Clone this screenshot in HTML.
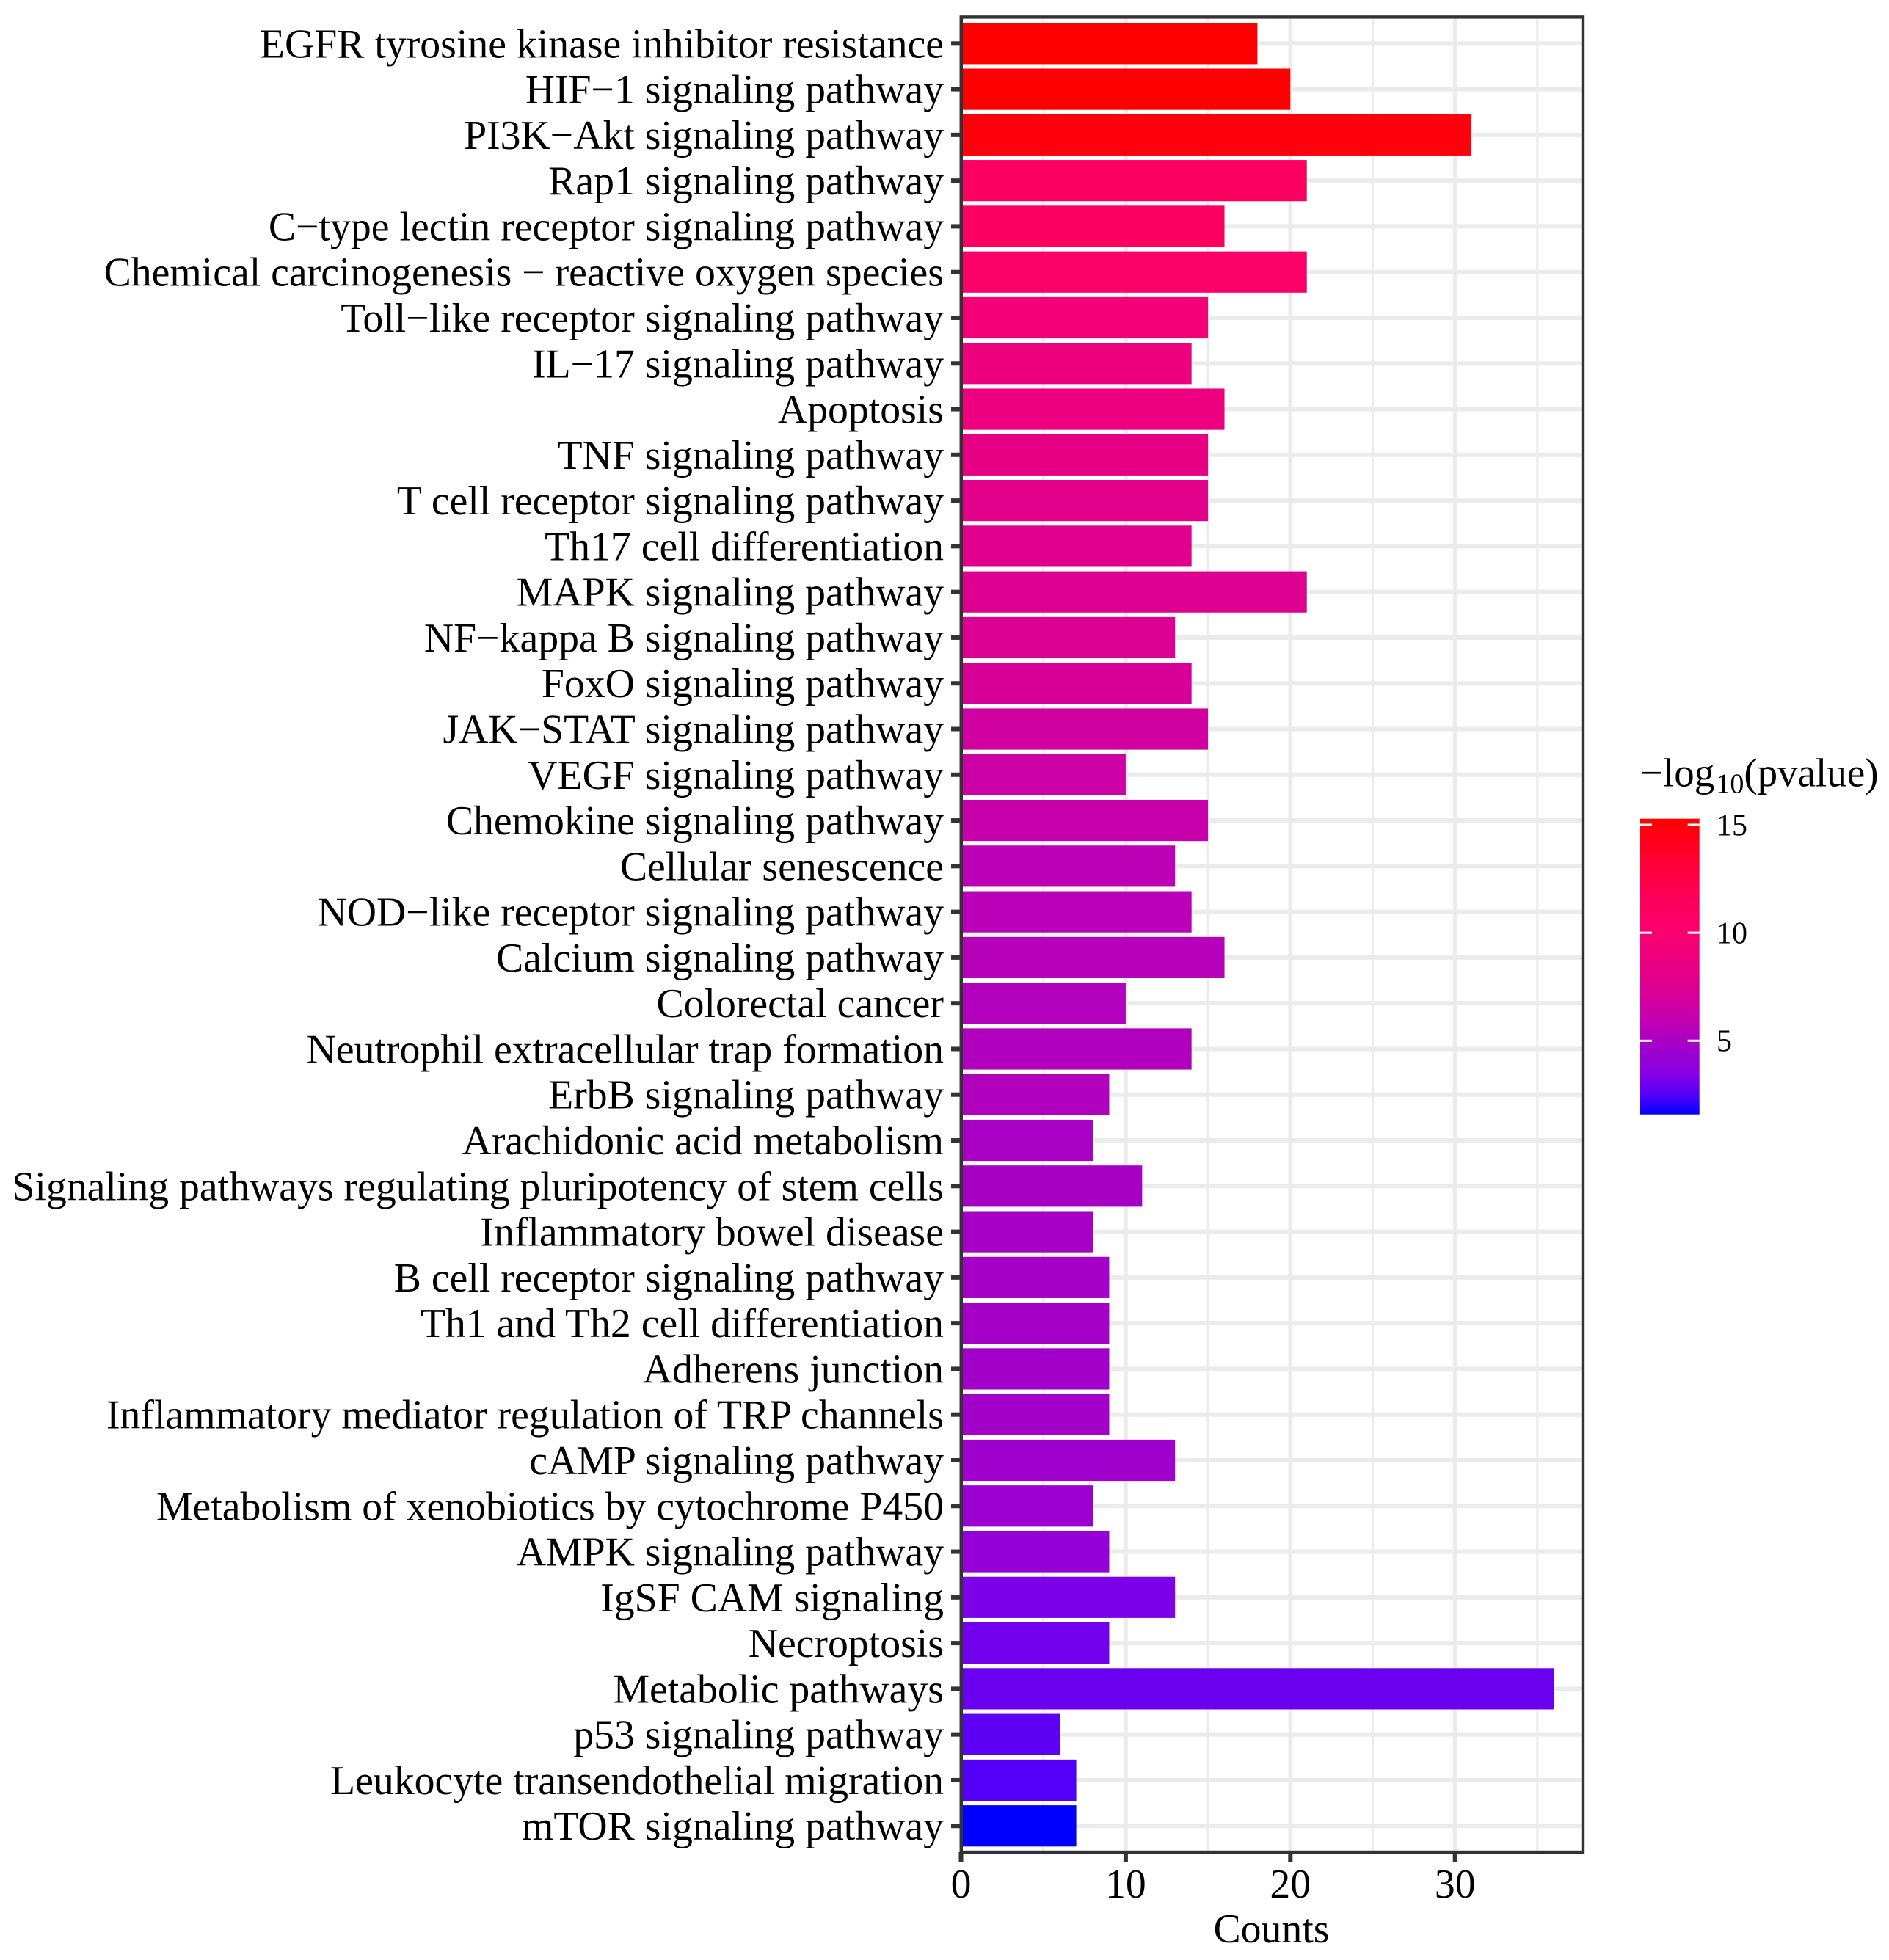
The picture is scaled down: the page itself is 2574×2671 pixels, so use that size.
<!DOCTYPE html>
<html>
<head>
<meta charset="utf-8">
<title>KEGG pathway bar chart</title>
<style>
html,body{margin:0;padding:0;background:#fff;}
svg{display:block;}
text{font-family:"Liberation Serif",serif;fill:#000;}
</style>
</head>
<body>
<svg id="chart" xmlns="http://www.w3.org/2000/svg" width="2574" height="2671" viewBox="0 0 2574 2671">
  <defs>
    <linearGradient id="legend-gradient" x1="0" y1="1" x2="0" y2="0"></linearGradient>
  </defs>
  <g id="grid"></g>
  <g id="bars"></g>
  <g id="axes"></g>
  <g id="legend"></g>
</svg>
<script>
const categories = [
"EGFR tyrosine kinase inhibitor resistance","HIF\u22121 signaling pathway","PI3K\u2212Akt signaling pathway","Rap1 signaling pathway","C\u2212type lectin receptor signaling pathway","Chemical carcinogenesis \u2212 reactive oxygen species","Toll\u2212like receptor signaling pathway","IL\u221217 signaling pathway","Apoptosis","TNF signaling pathway","T cell receptor signaling pathway","Th17 cell differentiation","MAPK signaling pathway","NF\u2212kappa B signaling pathway","FoxO signaling pathway","JAK\u2212STAT signaling pathway","VEGF signaling pathway","Chemokine signaling pathway","Cellular senescence","NOD\u2212like receptor signaling pathway","Calcium signaling pathway","Colorectal cancer","Neutrophil extracellular trap formation","ErbB signaling pathway","Arachidonic acid metabolism","Signaling pathways regulating pluripotency of stem cells","Inflammatory bowel disease","B cell receptor signaling pathway","Th1 and Th2 cell differentiation","Adherens junction","Inflammatory mediator regulation of TRP channels","cAMP signaling pathway","Metabolism of xenobiotics by cytochrome P450","AMPK signaling pathway","IgSF CAM signaling","Necroptosis","Metabolic pathways","p53 signaling pathway","Leukocyte transendothelial migration","mTOR signaling pathway"];
const counts = [18,20,31,21,16,21,15,14,16,15,15,14,21,13,14,15,10,15,13,14,16,10,14,9,8,11,8,9,9,9,9,13,8,9,13,9,36,6,7,7];
const logP = [15.28,15.28,14.8,11,11,10.5,9.4,8.9,8.75,8.4,8.0,7.75,7.5,7.4,7.1,6.7,6.5,6.2,5.7,5.6,5.5,5.4,5.3,5.3,5.0,4.95,4.9,4.85,4.8,4.7,4.7,4.6,4.4,4.1,3.3,3.1,2.9,2.7,2.5,1.6];
const xMajorTicks = [0,10,20,30];
const xMinorTicks = [5,15,25,35];
const legendTicks = [5,10,15];
const colorValues = [1.6,2.5,3.5,5,6,7.5,10,12.5,15,15.28];
const colorHexes = ["#0000ff","#5400f8","#8800e4","#a800c4","#c400b0","#dd0090","#fa0070","#ff0048","#ff0008","#ff0000"];

const NS = "http://www.w3.org/2000/svg";
const plotL = 1309.8, plotR = 2157, plotT = 23.4, plotB = 2524;
const x0 = 1309.5, unit = 22.44, y0 = 59.3, step = 62.28, barH = 56.2;
const legL = 2235, legR = 2315.7, legT = 1115.7, legB = 1518.7, legPerUnit = 29.43, leg15 = 1124;
const xScale = v => x0 + v * unit;
const yScale = i => y0 + i * step;
const legY = v => leg15 + (15 - v) * legPerUnit;

function hexToRgb(h){return [1,3,5].map(i=>parseInt(h.substr(i,2),16));}
function colorFor(v){
  if (v <= colorValues[0]) return colorHexes[0];
  for (let i = 1; i < colorValues.length; i++) {
    if (v <= colorValues[i]) {
      const t = (v - colorValues[i-1]) / (colorValues[i] - colorValues[i-1]);
      const a = hexToRgb(colorHexes[i-1]), b = hexToRgb(colorHexes[i]);
      return "rgb(" + a.map((c,k)=>Math.round(c + (b[k]-c)*t)).join(",") + ")";
    }
  }
  return colorHexes[colorHexes.length-1];
}
function mk(tag, attrs, parent){
  const el = document.createElementNS(NS, tag);
  for (const k in attrs) el.setAttribute(k, attrs[k]);
  parent.appendChild(el);
  return el;
}
const grid = document.getElementById("grid");
const bars = document.getElementById("bars");
const axes = document.getElementById("axes");
const legend = document.getElementById("legend");

xMinorTicks.forEach(v=>{
  const l = mk("line",{x1:xScale(v),x2:xScale(v),y1:plotT,y2:plotB,stroke:"#ebebeb","stroke-width":3},grid);
  
  
});
xMajorTicks.forEach(v=>{
  const l = mk("line",{x1:xScale(v),x2:xScale(v),y1:plotT,y2:plotB,stroke:"#ebebeb","stroke-width":5.6},grid);
  
  
});
categories.forEach((c,i)=>{
  const l = mk("line",{x1:plotL,x2:plotR,y1:yScale(i),y2:yScale(i),stroke:"#ebebeb","stroke-width":6},grid);
  
  
});
categories.forEach((c,i)=>{
  const r = mk("rect",{x:xScale(0),y:yScale(i)-barH/2,width:counts[i]*unit,height:barH,fill:colorFor(logP[i])},bars);
  
  
  const tick = mk("line",{x1:1296,x2:plotL,y1:yScale(i),y2:yScale(i),stroke:"#333","stroke-width":6},axes);
  
  
  const t = mk("text",{x:1286,y:yScale(i)+19,"text-anchor":"end","font-size":55.75},axes);
  
  
  t.textContent = c;
});
const border = mk("rect",{x:plotL,y:plotT,width:plotR-plotL,height:plotB-plotT,fill:"none",stroke:"#333","stroke-width":4.4},axes);


xMajorTicks.forEach(v=>{
  const l = mk("line",{x1:xScale(v),x2:xScale(v),y1:plotB,y2:2538,stroke:"#333","stroke-width":6},axes);
  
  
  const t = mk("text",{x:xScale(v),y:2586,"text-anchor":"middle","font-size":55.75},axes);
  
  
  t.textContent = v;
});
const xTitle = mk("text",{x:1732.5,y:2647,"text-anchor":"middle","font-size":55.75},axes);


xTitle.textContent = "Counts";

const grad = document.getElementById("legend-gradient");
colorValues.forEach((v,i)=>{
  mk("stop",{offset:(v-colorValues[0])/(colorValues[colorValues.length-1]-colorValues[0]),"stop-color":colorHexes[i]},grad);
});
const lt = mk("text",{x:2235,y:1071.7,"font-size":55},legend);


const s1 = mk("tspan",{},lt); s1.textContent = "\u2212log";
const s2 = mk("tspan",{dx:2,dy:9,"font-size":38},lt); s2.textContent = "10";
const s3 = mk("tspan",{dx:0,dy:-9},lt); s3.textContent = "(pvalue)";
const lb = mk("rect",{x:legL,y:legT,width:legR-legL,height:legB-legT,fill:"url(#legend-gradient)"},legend);


legendTicks.forEach(v=>{
  const a = mk("line",{x1:legL,x2:legL+16,y1:legY(v),y2:legY(v),stroke:"#fff","stroke-width":3},legend);
  
  
  const b = mk("line",{x1:legR-16,x2:legR,y1:legY(v),y2:legY(v),stroke:"#fff","stroke-width":3},legend);
  
  
  const t = mk("text",{x:2339,y:legY(v)+14.3,"font-size":42},legend);
  
  
  t.textContent = v;
});
</script>
</body>
</html>
